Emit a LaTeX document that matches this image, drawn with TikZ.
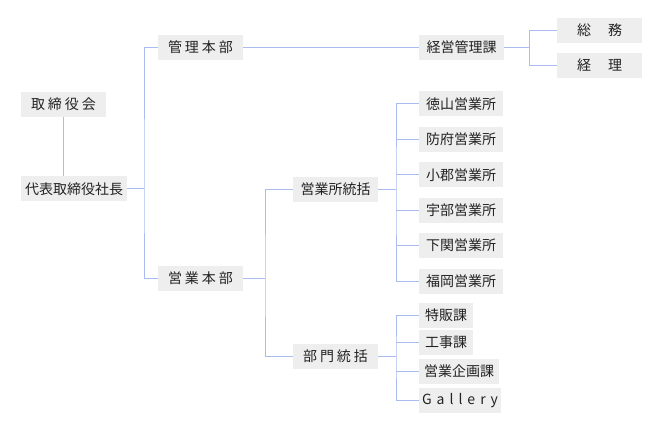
\documentclass[tikz,border=0pt]{standalone}
\usepackage{fontspec}
\setmainfont{Noto Sans CJK JP}
\newfontfamily\jpfont{Noto Sans CJK JP}
\definecolor{boxgray}{HTML}{EEEEEE}
\definecolor{txtgray}{HTML}{222222}
\definecolor{linkblue}{RGB}{170,188,242}
\newcommand{\gp}{\kern3pt}
\begin{document}
\begin{tikzpicture}[x=1pt,y=-1pt,
  orgbox/.style={fill=boxgray, inner sep=0pt, minimum height=25pt, text=txtgray,
    font=\jpfont\fontsize{14}{15}\selectfont, anchor=center},
  link/.style={draw=linkblue, line width=1pt}]
\useasboundingbox[fill=white] (0,0) rectangle (660,430);

% nodes
\node[orgbox, minimum width=85pt]  (tori)  at (63.5,104.5) {取\gp 締\gp 役\gp 会};
\node[orgbox, minimum width=106pt] (daih)  at (74,189)     {代表取締役社長};
\node[orgbox, minimum width=85pt]  (kanri) at (200.5,47.5) {管\gp 理\gp 本\gp 部};
\node[orgbox, minimum width=85pt]  (ehon)  at (200.5,278.5){営\gp 業\gp 本\gp 部};
\node[orgbox, minimum width=85pt]  (keiei) at (461.5,47.5) {経営管理課};
\node[orgbox, minimum width=85pt]  (somu)  at (599.5,30.5) {総\kern17pt 務};
\node[orgbox, minimum width=85pt]  (keiri) at (599.5,65.5) {経\kern17pt 理};
\node[orgbox, minimum width=85pt]  (esho)  at (335.5,189.5){営業所統括};
\node[orgbox, minimum width=85pt]  (bumon) at (335.5,356.5){部\gp 門\gp 統\gp 括};

\node[orgbox, minimum width=84pt] (o1) at (461,104)   {徳山営業所};
\node[orgbox, minimum width=84pt] (o2) at (461,139.4) {防府営業所};
\node[orgbox, minimum width=84pt] (o3) at (461,174.8) {小郡営業所};
\node[orgbox, minimum width=84pt] (o4) at (461,210.2) {宇部営業所};
\node[orgbox, minimum width=84pt] (o5) at (461,245.6) {下関営業所};
\node[orgbox, minimum width=84pt] (o6) at (461,281)   {福岡営業所};

\node[orgbox, minimum width=54pt] (d1) at (446,315)   {特販課};
\node[orgbox, minimum width=54pt] (d2) at (446,342.5) {工事課};
\node[orgbox, minimum width=80pt] (d3) at (459,371.5) {営業企画課};
\node[orgbox, minimum width=82pt] (d4) at (460,400.5) {G\kern5pt a\kern5pt l\kern5pt l\kern5pt e\kern5pt r\kern5pt y};

% junction coordinates
\coordinate (j0) at (144,189);
\coordinate (j1) at (529,47.5);
\coordinate (j2) at (265,278.5);
\coordinate (j3) at (396,189.5);
\coordinate (j4) at (396,356.5);

% connectors
\draw[link] (63,117) -- (63,176.5);
\draw[link] (daih.east) -- (j0);
\draw[link] (kanri.west) -| (j0) |- (ehon.west);
\draw[link] (kanri.east) -- (keiei.west);
\draw[link] (keiei.east) -- (j1);
\draw[link] (somu.west) -| (j1) |- (keiri.west);
\draw[link] (ehon.east) -- (j2);
\draw[link] (esho.west) -| (j2) |- (bumon.west);
\draw[link] (esho.east) -- (j3);
\draw[link] (o1.west) -| (j3) |- (o6.west);
\foreach \n in {o2,o3,o4,o5} \draw[link] (\n.west) -- (\n.west -| j3);
\draw[link] (bumon.east) -- (j4);
\draw[link] (d1.west) -| (j4) |- (d4.west);
\foreach \n in {d2,d3} \draw[link] (\n.west) -- (\n.west -| j4);
\end{tikzpicture}
\end{document}
